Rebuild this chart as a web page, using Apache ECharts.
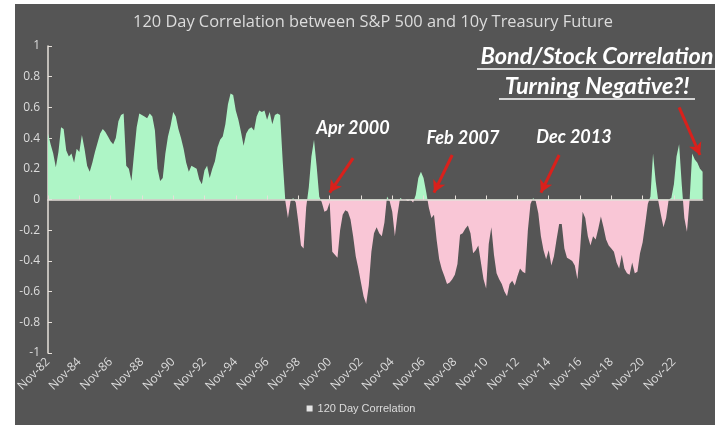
<!DOCTYPE html>
<html>
<head>
<meta charset="utf-8">
<script src="https://cdn.jsdelivr.net/npm/echarts@6/dist/echarts.min.js"></script>
<style>
  html, body { margin: 0; padding: 0; background: #ffffff; }
  #panel { position: absolute; left: 15px; top: 4px; width: 700px; height: 421px; background: #555555; }
  #chart { position: absolute; left: 0; top: 0; width: 722px; height: 431px; }
</style>
</head>
<body>
<div id="panel"></div>
<div id="chart"></div>
<script>
// ---- data (bimonthly samples, Nov-82 .. Sep-24) ----
const startYear = 1982;
const startMonth = 10; // Nov (0-based)
const stepMonths = 2;
const monthNames = ['Jan','Feb','Mar','Apr','May','Jun','Jul','Aug','Sep','Oct','Nov','Dec'];

const correlation = [
  0.43,0.36,0.30,0.21,0.31,0.47,0.46,0.32,0.28,0.30,
  0.24,0.33,0.31,0.42,0.33,0.22,0.18,0.24,0.31,0.37,
  0.43,0.46,0.44,0.41,0.38,0.36,0.40,0.51,0.55,0.56,
  0.22,0.20,0.12,0.30,0.47,0.56,0.55,0.54,0.53,0.56,
  0.54,0.45,0.20,0.12,0.14,0.30,0.41,0.48,0.57,0.54,
  0.46,0.40,0.33,0.24,0.18,0.22,0.21,0.20,0.13,0.10,
  0.19,0.22,0.14,0.20,0.25,0.34,0.39,0.41,0.49,0.62,
  0.69,0.68,0.58,0.52,0.44,0.35,0.43,0.46,0.47,0.45,
  0.54,0.58,0.57,0.58,0.52,0.57,0.49,0.55,0.56,0.55,
  0.25,-0.01,-0.12,-0.01,0.01,-0.02,-0.15,-0.30,-0.32,-0.05,
  0.08,0.28,0.39,0.22,0.02,-0.02,-0.08,-0.07,-0.02,-0.34,
  -0.36,-0.38,-0.20,-0.10,-0.07,-0.08,-0.13,-0.24,-0.37,-0.45,
  -0.54,-0.63,-0.68,-0.56,-0.34,-0.22,-0.18,-0.22,-0.24,-0.15,
  0.02,-0.01,-0.08,-0.24,-0.10,0.01,0.00,0.00,-0.01,0.00,
  -0.02,0.03,0.14,0.18,0.14,0.05,-0.05,-0.12,-0.10,-0.26,
  -0.39,-0.455,-0.50,-0.55,-0.54,-0.52,-0.49,-0.42,-0.23,-0.22,
  -0.19,-0.17,-0.22,-0.35,-0.33,-0.30,-0.41,-0.52,-0.58,-0.29,
  -0.18,-0.36,-0.48,-0.52,-0.55,-0.60,-0.63,-0.55,-0.53,-0.56,
  -0.50,-0.45,-0.47,-0.48,-0.20,-0.03,0.01,-0.01,-0.09,-0.24,
  -0.33,-0.39,-0.33,-0.43,-0.37,-0.26,-0.16,-0.16,-0.32,-0.38,
  -0.39,-0.40,-0.43,-0.52,-0.33,-0.08,-0.12,-0.24,-0.30,-0.24,
  -0.26,-0.19,-0.11,-0.18,-0.26,-0.30,-0.32,-0.34,-0.41,-0.45,
  -0.36,-0.45,-0.48,-0.49,-0.41,-0.48,-0.47,-0.35,-0.28,-0.16,
  -0.03,0.02,0.30,0.12,-0.01,-0.10,-0.18,-0.12,0.00,0.01,
  0.10,0.28,0.36,0.10,-0.12,-0.21,-0.01,0.30,0.26,0.24,
  0.20,0.18
];

const tickLabels = ['Nov-82','Nov-84','Nov-86','Nov-88','Nov-90','Nov-92','Nov-94','Nov-96','Nov-98','Nov-00',
  'Nov-02','Nov-04','Nov-06','Nov-08','Nov-10','Nov-12','Nov-14','Nov-16','Nov-18','Nov-20','Nov-22'];

const seriesName = '120 Day Correlation';
const titleText = '120 Day Correlation between S&P 500 and 10y Treasury Future';

// annotation arrows: [tail category index, tail value, tip category index, tip value]
const arrows = [
  [117, 0.27, 108, 0.045],
  [155, 0.29, 148, 0.045],
  [196, 0.29, 189, 0.045],
  [242, 0.60, 250, 0.29]
];

// ---- build categories ----
const categories = correlation.map((_, i) => {
  const m = startMonth + i * stepMonths;
  const y = startYear + Math.floor(m / 12);
  return monthNames[m % 12] + '-' + String(y % 100).padStart(2, '0');
});

const GREEN = '#aef5c6';
const PINK = '#f9c6d6';
const AXIS = '#e6e0da';
const TXT = '#dcdcdc';
const FONT = '"Open Sans", "DejaVu Sans", sans-serif';
const AFONT = 'Lato, "Open Sans", sans-serif';

const chart = echarts.init(document.getElementById('chart'), null, { renderer: 'canvas' });

const isTick = (idx) => tickLabels.indexOf(categories[idx]) >= 0;

function buildOption(fill) {
  return {
    animation: false,
    backgroundColor: 'transparent',
    title: {
      text: titleText,
      left: 368, top: 9, textAlign: 'center',
      textStyle: { color: TXT, fontSize: 16.4, fontWeight: 'normal', fontFamily: FONT }
    },
    legend: {
      bottom: 12, left: 'center',
      itemWidth: 6, itemHeight: 6, itemGap: 5,
      data: [{ name: seriesName, icon: 'rect', itemStyle: { color: '#e4e4e4' } }],
      textStyle: { color: TXT, fontSize: 11, fontFamily: '"Liberation Sans Narrow", "Liberation Sans", sans-serif' }
    },
    grid: { left: 48, right: 19.4, top: 46, bottom: 78 },
    xAxis: [
      {
        type: 'category', data: categories, boundaryGap: false, position: 'bottom',
        axisLine: { show: false, onZero: false },
        axisTick: { show: false },
        axisLabel: {
          interval: isTick, rotate: 45, margin: 7,
          color: TXT, fontSize: 12, fontFamily: FONT
        },
        splitLine: { show: false }
      },
      {
        type: 'category', data: categories, boundaryGap: false, position: 'top', z: 5,
        axisLine: { show: true, onZero: true, lineStyle: { color: AXIS, width: 1.5 } },
        axisTick: { show: true, interval: isTick, length: 4, lineStyle: { color: AXIS } },
        axisLabel: { show: false },
        splitLine: { show: false }
      }
    ],
    yAxis: {
      type: 'value', min: -1, max: 1, interval: 0.2,
      axisLine: { show: true, lineStyle: { color: AXIS, width: 1.5 } },
      axisTick: { show: true, inside: true, length: 4, lineStyle: { color: AXIS } },
      axisLabel: {
        color: TXT, fontSize: 12, fontFamily: FONT, margin: 8,
        formatter: v => String(Math.round(v * 10) / 10)
      },
      splitLine: { show: false }
    },
    series: [{
      name: seriesName,
      type: 'line',
      xAxisIndex: 0,
      data: correlation,
      showSymbol: false,
      symbol: 'none',
      lineStyle: { width: 0, opacity: 0 },
      areaStyle: { opacity: 1, color: fill },
      itemStyle: { color: '#e4e4e4' },
      markLine: {
        silent: true,
        symbol: ['none', 'arrow'],
        symbolSize: [10, 12],
        label: { show: false },
        lineStyle: { color: '#d9211c', width: 3, type: 'solid' },
        data: arrows.map(a => [
          { coord: [a[0], a[1]] },
          { coord: [a[2], a[3]] }
        ])
      }
    }],
    graphic: [
      { type: 'text', x: 353, y: 128, style: { text: 'Apr 2000', fill: '#ffffff', font: 'italic bold 18px ' + AFONT, textAlign: 'center', textVerticalAlign: 'middle' } },
      { type: 'text', x: 463, y: 138, style: { text: 'Feb 2007', fill: '#ffffff', font: 'italic bold 18px ' + AFONT, textAlign: 'center', textVerticalAlign: 'middle' } },
      { type: 'text', x: 574, y: 137, style: { text: 'Dec 2013', fill: '#ffffff', font: 'italic bold 18px ' + AFONT, textAlign: 'center', textVerticalAlign: 'middle' } },
      { type: 'text', x: 597, y: 56, style: { text: 'Bond/Stock Correlation', fill: '#ffffff', font: 'italic bold 23.5px ' + AFONT, textAlign: 'center', textVerticalAlign: 'middle' } },
      { type: 'text', x: 597, y: 86, style: { text: 'Turning Negative?!', fill: '#ffffff', font: 'italic bold 23.5px ' + AFONT, textAlign: 'center', textVerticalAlign: 'middle' } },
      { type: 'line', shape: { x1: 477, y1: 69, x2: 717, y2: 69 }, style: { stroke: '#ffffff', lineWidth: 1.5 } },
      { type: 'line', shape: { x1: 499, y1: 99, x2: 695, y2: 99 }, style: { stroke: '#ffffff', lineWidth: 1.5 } }
    ]
  };
}

// first pass to learn where value 0 falls, then fill positive green / negative pink
chart.setOption(buildOption(GREEN));
const yTop = chart.convertToPixel({ yAxisIndex: 0 }, 1);
const yBot = chart.convertToPixel({ yAxisIndex: 0 }, -1);
const yZero = chart.convertToPixel({ yAxisIndex: 0 }, 0);
const f = (yZero - yTop) / (yBot - yTop);
const signFill = new echarts.graphic.LinearGradient(0, yTop, 0, yBot, [
  { offset: 0, color: GREEN }, { offset: f, color: GREEN },
  { offset: f, color: PINK }, { offset: 1, color: PINK }
], true);
chart.setOption(buildOption(signFill), true);
</script>
</body>
</html>
